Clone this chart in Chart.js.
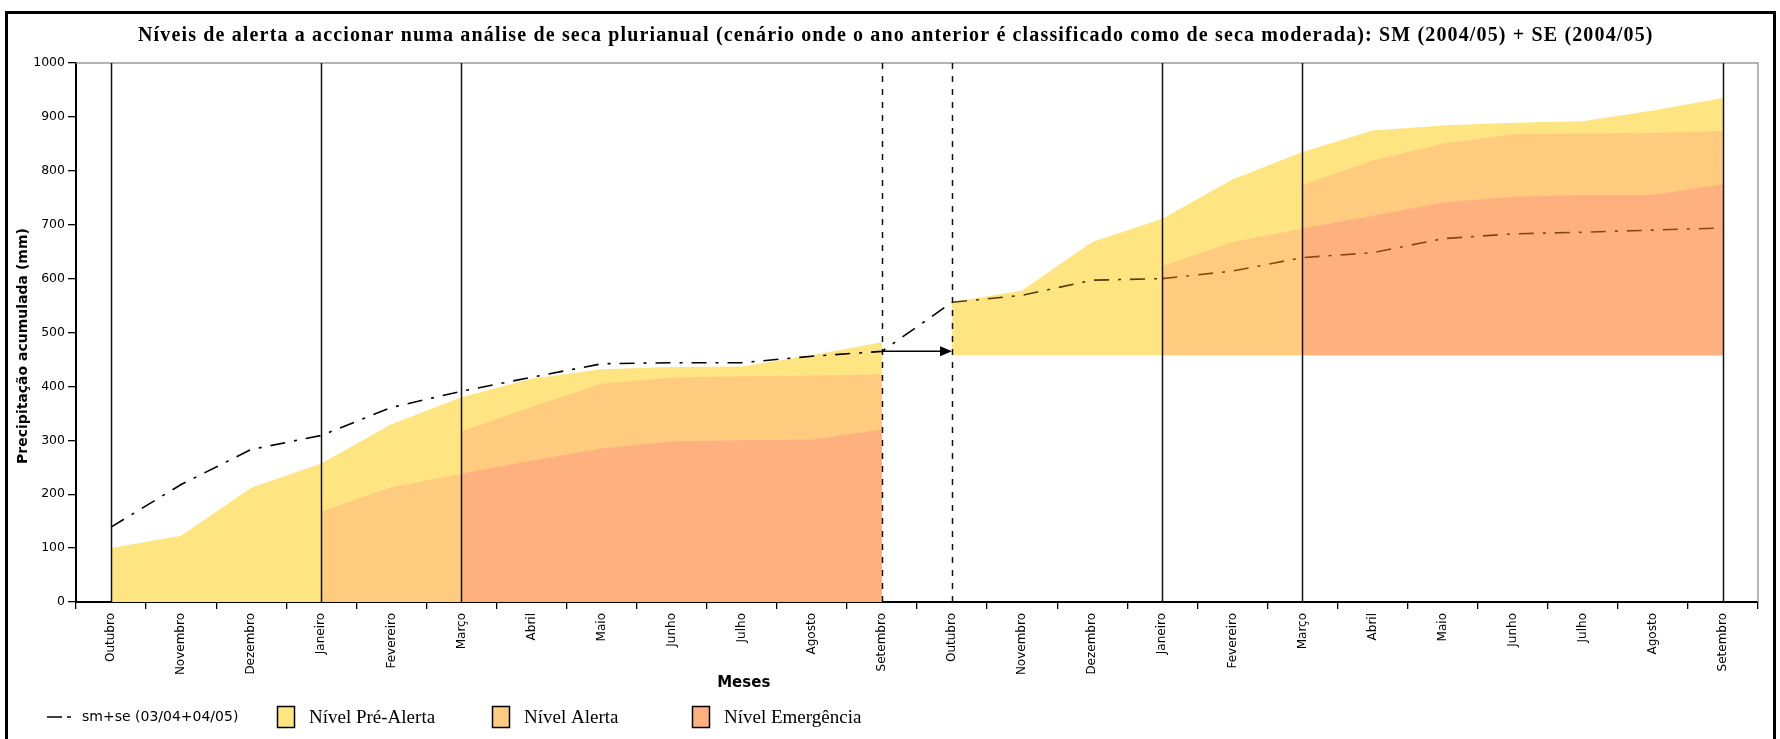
<!DOCTYPE html>
<html lang="pt">
<head>
<meta charset="utf-8">
<title>Níveis de alerta - seca plurianual</title>
<script src="https://cdn.jsdelivr.net/npm/chart.js@4.4.1/dist/chart.umd.min.js"></script>
<style>
  html, body { margin: 0; padding: 0; background: #fff; }
  #grafico { display: block; }
</style>
</head>
<body>
<canvas id="grafico" width="1780" height="739"></canvas>
<script>
const _ = null;

// dois anos hidrológicos seguidos (2003/04 e 2004/05)
const meses = ['Outubro', 'Novembro', 'Dezembro', 'Janeiro', 'Fevereiro', 'Março',
               'Abril', 'Maio', 'Junho', 'Julho', 'Agosto', 'Setembro',
               'Outubro', 'Novembro', 'Dezembro', 'Janeiro', 'Fevereiro', 'Março',
               'Abril', 'Maio', 'Junho', 'Julho', 'Agosto', 'Setembro'];

// precipitação acumulada observada sm+se (mm)
const smse = [139, 218, 283, 309, 361, 391, 417, 442, 444, 444, 456, 465,
              556, 569, 597, 600, 614, 639, 648, 674, 683, 686, 690, 694];

// limites dos níveis de alerta, 1.º ano (acumulado desde zero)
const preAlertaAno1    = [100, 123, 212, 257, 330, 380, 414, 432, 436, 437, 458, 482, _, _, _, _, _, _, _, _, _, _, _, _];
const alertaJanMarAno1 = [_, _, _, 168, 213, 238, _, _, _, _, _, _, _, _, _, _, _, _, _, _, _, _, _, _];
const alertaAno1       = [_, _, _, _, _, 317, 362, 405, 416, 419, 420, 422, _, _, _, _, _, _, _, _, _, _, _, _];
const emergenciaAno1   = [_, _, _, _, _, 238, 262, 285, 298, 300, 301, 320, _, _, _, _, _, _, _, _, _, _, _, _];

// 2.º ano: parte do valor acumulado no fim do ano anterior
const baseAno2         = 458;
const preAlertaAno2    = [_, _, _, _, _, _, _, _, _, _, _, _, 556, 578, 668, 711, 784, 835, 875, 884, 889, 892, 912, 935];
const alertaJanMarAno2 = [_, _, _, _, _, _, _, _, _, _, _, _, _, _, _, 623, 668, 693, _, _, _, _, _, _];
const alertaAno2       = [_, _, _, _, _, _, _, _, _, _, _, _, _, _, _, _, _, 773, 819, 850, 868, 869, 870, 874];
const emergenciaAno2   = [_, _, _, _, _, _, _, _, _, _, _, _, _, _, _, _, _, 693, 716, 741, 752, 755, 755, 775];

// meses onde muda o nível a accionar
const marcosSolidos = [0, 3, 5, 15, 17, 23];
const marcosTracejados = [11, 12];

const escalaY = { min: 0, max: 1000, passo: 100 };

const titulo = 'Níveis de alerta a accionar numa análise de seca plurianual (cenário onde o ano anterior é classificado como de seca moderada): SM (2004/05) + SE (2004/05)';

const cores = {
  preAlerta: '#FFE582',
  alerta: '#FFCB7F',
  emergencia: '#FFB07F'
};

function area(label, data, cor, fill, order) {
  return {
    label, data, fill, order,
    backgroundColor: cor,
    borderColor: cor,
    borderWidth: 0,
    pointRadius: 0,
    tension: 0
  };
}

// a linha fica acastanhada quando passa por dentro das áreas do 2.º ano
function corSegmento(i) {
  if (i < 12) return '#000';
  if (i < 15) return '#4e3d0c';
  return '#8a4612';
}

const desenhoExtra = {
  id: 'desenhoExtra',
  beforeDraw(chart) {
    const ctx = chart.ctx;
    ctx.save();
    ctx.fillStyle = '#fff';
    ctx.fillRect(0, 0, chart.width, chart.height);

    // moldura exterior
    ctx.strokeStyle = '#000';
    ctx.lineWidth = 3;
    ctx.strokeRect(6.5, 12.5, 1768, 800);

    // título
    ctx.fillStyle = '#000';
    ctx.font = 'bold 20px "Liberation Serif"';
    ctx.textBaseline = 'middle';
    ctx.textAlign = 'left';
    const w = ctx.measureText(titulo).width;
    if ('letterSpacing' in ctx && w < 1514) {
      ctx.letterSpacing = ((1514 - w) / (titulo.length - 1)).toFixed(2) + 'px';
    }
    ctx.fillText(titulo, 138, 36);
    ctx.restore();
  },
  beforeDatasetsDraw(chart) {
    const { ctx, chartArea: a } = chart;
    ctx.save();
    ctx.strokeStyle = '#9a9a9a';
    ctx.lineWidth = 1.5;
    ctx.beginPath();
    ctx.moveTo(a.left, a.top);
    ctx.lineTo(a.right, a.top);
    ctx.lineTo(a.right, a.bottom);
    ctx.stroke();
    ctx.restore();
  },
  afterDatasetsDraw(chart) {
    const { ctx, chartArea: a, scales: { x, y } } = chart;
    ctx.save();
    ctx.strokeStyle = '#111';
    ctx.lineWidth = 1.5;
    marcosSolidos.forEach(i => {
      const px = Math.round(x.getPixelForValue(i)) + 0.5;
      ctx.beginPath();
      ctx.moveTo(px, a.top);
      ctx.lineTo(px, a.bottom);
      ctx.stroke();
    });
    ctx.setLineDash([6, 7]);
    marcosTracejados.forEach(i => {
      const px = Math.round(x.getPixelForValue(i)) + 0.5;
      ctx.beginPath();
      ctx.moveTo(px, a.top);
      ctx.lineTo(px, a.bottom);
      ctx.stroke();
    });
    ctx.setLineDash([]);

    // seta: o acumulado de Setembro passa para o início do ano seguinte
    const x0 = x.getPixelForValue(marcosTracejados[0]);
    const x1 = x.getPixelForValue(marcosTracejados[1]);
    const py = y.getPixelForValue(smse[marcosTracejados[0]]);
    ctx.strokeStyle = '#000';
    ctx.fillStyle = '#000';
    ctx.beginPath();
    ctx.moveTo(x0, py);
    ctx.lineTo(x1 - 10, py);
    ctx.stroke();
    ctx.beginPath();
    ctx.moveTo(x1, py);
    ctx.lineTo(x1 - 12, py - 5);
    ctx.lineTo(x1 - 12, py + 5);
    ctx.closePath();
    ctx.fill();
    ctx.restore();
  },
  afterDraw(chart) {
    const { ctx, chartArea: a } = chart;
    ctx.save();
    ctx.fillStyle = '#000';
    ctx.textBaseline = 'middle';

    // títulos dos eixos
    ctx.font = 'bold 14px "DejaVu Sans"';
    ctx.textAlign = 'center';
    ctx.save();
    ctx.translate(23, 346);
    ctx.rotate(-Math.PI / 2);
    ctx.fillText('Precipitação acumulada (mm)', 0, 0);
    ctx.restore();
    ctx.font = 'bold 15px "DejaVu Sans"';
    ctx.fillText('Meses', a.left + a.width * 0.397, 683);

    // legenda
    const ly = 717;
    const ds = chart.data.datasets;
    ctx.textAlign = 'left';
    ctx.strokeStyle = '#000';
    ctx.lineWidth = 1.6;
    ctx.beginPath();
    ctx.moveTo(47, ly); ctx.lineTo(62, ly);
    ctx.moveTo(67, ly); ctx.lineTo(71, ly);
    ctx.stroke();
    ctx.font = '14px "DejaVu Sans"';
    ctx.fillText(ds[0].label, 82, ly);

    const caixas = [
      { ds: ds.find(d => d.label === 'Nível Pré-Alerta'), x: 277 },
      { ds: ds.find(d => d.label === 'Nível Alerta'), x: 492 },
      { ds: ds.find(d => d.label === 'Nível Emergência'), x: 692 }
    ];
    ctx.font = '19px "Liberation Serif"';
    ctx.lineWidth = 1.5;
    caixas.forEach(c => {
      ctx.fillStyle = c.ds.backgroundColor;
      ctx.fillRect(c.x, ly - 11, 18, 22);
      ctx.strokeRect(c.x + 0.5, ly - 10.5, 17, 21);
      ctx.fillStyle = '#000';
      ctx.fillText(c.ds.label, c.x + 32, ly + 1);
    });
    ctx.restore();
  }
};

new Chart(document.getElementById('grafico'), {
  type: 'line',
  data: {
    labels: meses,
    datasets: [
      {
        label: 'sm+se (03/04+04/05)',
        data: smse,
        borderColor: '#000',
        borderWidth: 1.6,
        borderDash: [15, 9, 3, 9],
        pointRadius: 0,
        fill: false,
        tension: 0,
        order: 0,
        segment: { borderColor: c => corSegmento(c.p0DataIndex) }
      },
      area('Nível Emergência', emergenciaAno1, cores.emergencia, 'origin', 1),
      area('Nível Emergência (2)', emergenciaAno2, cores.emergencia, { value: baseAno2 }, 1),
      area('Nível Alerta', alertaAno1, cores.alerta, 'origin', 2),
      area('Nível Alerta (Jan-Mar)', alertaJanMarAno1, cores.alerta, 'origin', 2),
      area('Nível Alerta (2)', alertaAno2, cores.alerta, { value: baseAno2 }, 2),
      area('Nível Alerta (Jan-Mar 2)', alertaJanMarAno2, cores.alerta, { value: baseAno2 }, 2),
      area('Nível Pré-Alerta', preAlertaAno1, cores.preAlerta, 'origin', 3),
      area('Nível Pré-Alerta (2)', preAlertaAno2, cores.preAlerta, { value: baseAno2 }, 3)
    ]
  },
  options: {
    responsive: false,
    animation: false,
    devicePixelRatio: 1,
    layout: { padding: { left: 11, top: 63, right: 22, bottom: 0 } },
    plugins: {
      legend: { display: false },
      title: { display: false },
      tooltip: { enabled: false }
    },
    scales: {
      x: {
        type: 'category',
        offset: true,
        grid: { offset: true, drawOnChartArea: false, drawTicks: true, tickLength: 7, color: '#000', lineWidth: 1.3 },
        border: { color: '#000', width: 2 },
        ticks: {
          autoSkip: false, minRotation: 90, maxRotation: 90, padding: 4, color: '#000',
          font: { family: 'DejaVu Sans', size: 12 }
        },
        afterFit: s => { s.height = 137; }
      },
      y: {
        min: escalaY.min,
        max: escalaY.max,
        ticks: {
          stepSize: escalaY.passo, padding: 3, color: '#000',
          font: { family: 'DejaVu Sans', size: 12.5 },
          callback: v => String(v)
        },
        grid: { drawOnChartArea: false, tickLength: 8, color: '#000', lineWidth: 1.3 },
        border: { color: '#000', width: 2 },
        afterFit: s => { s.width = 65; }
      }
    }
  },
  plugins: [desenhoExtra]
});
</script>
</body>
</html>
